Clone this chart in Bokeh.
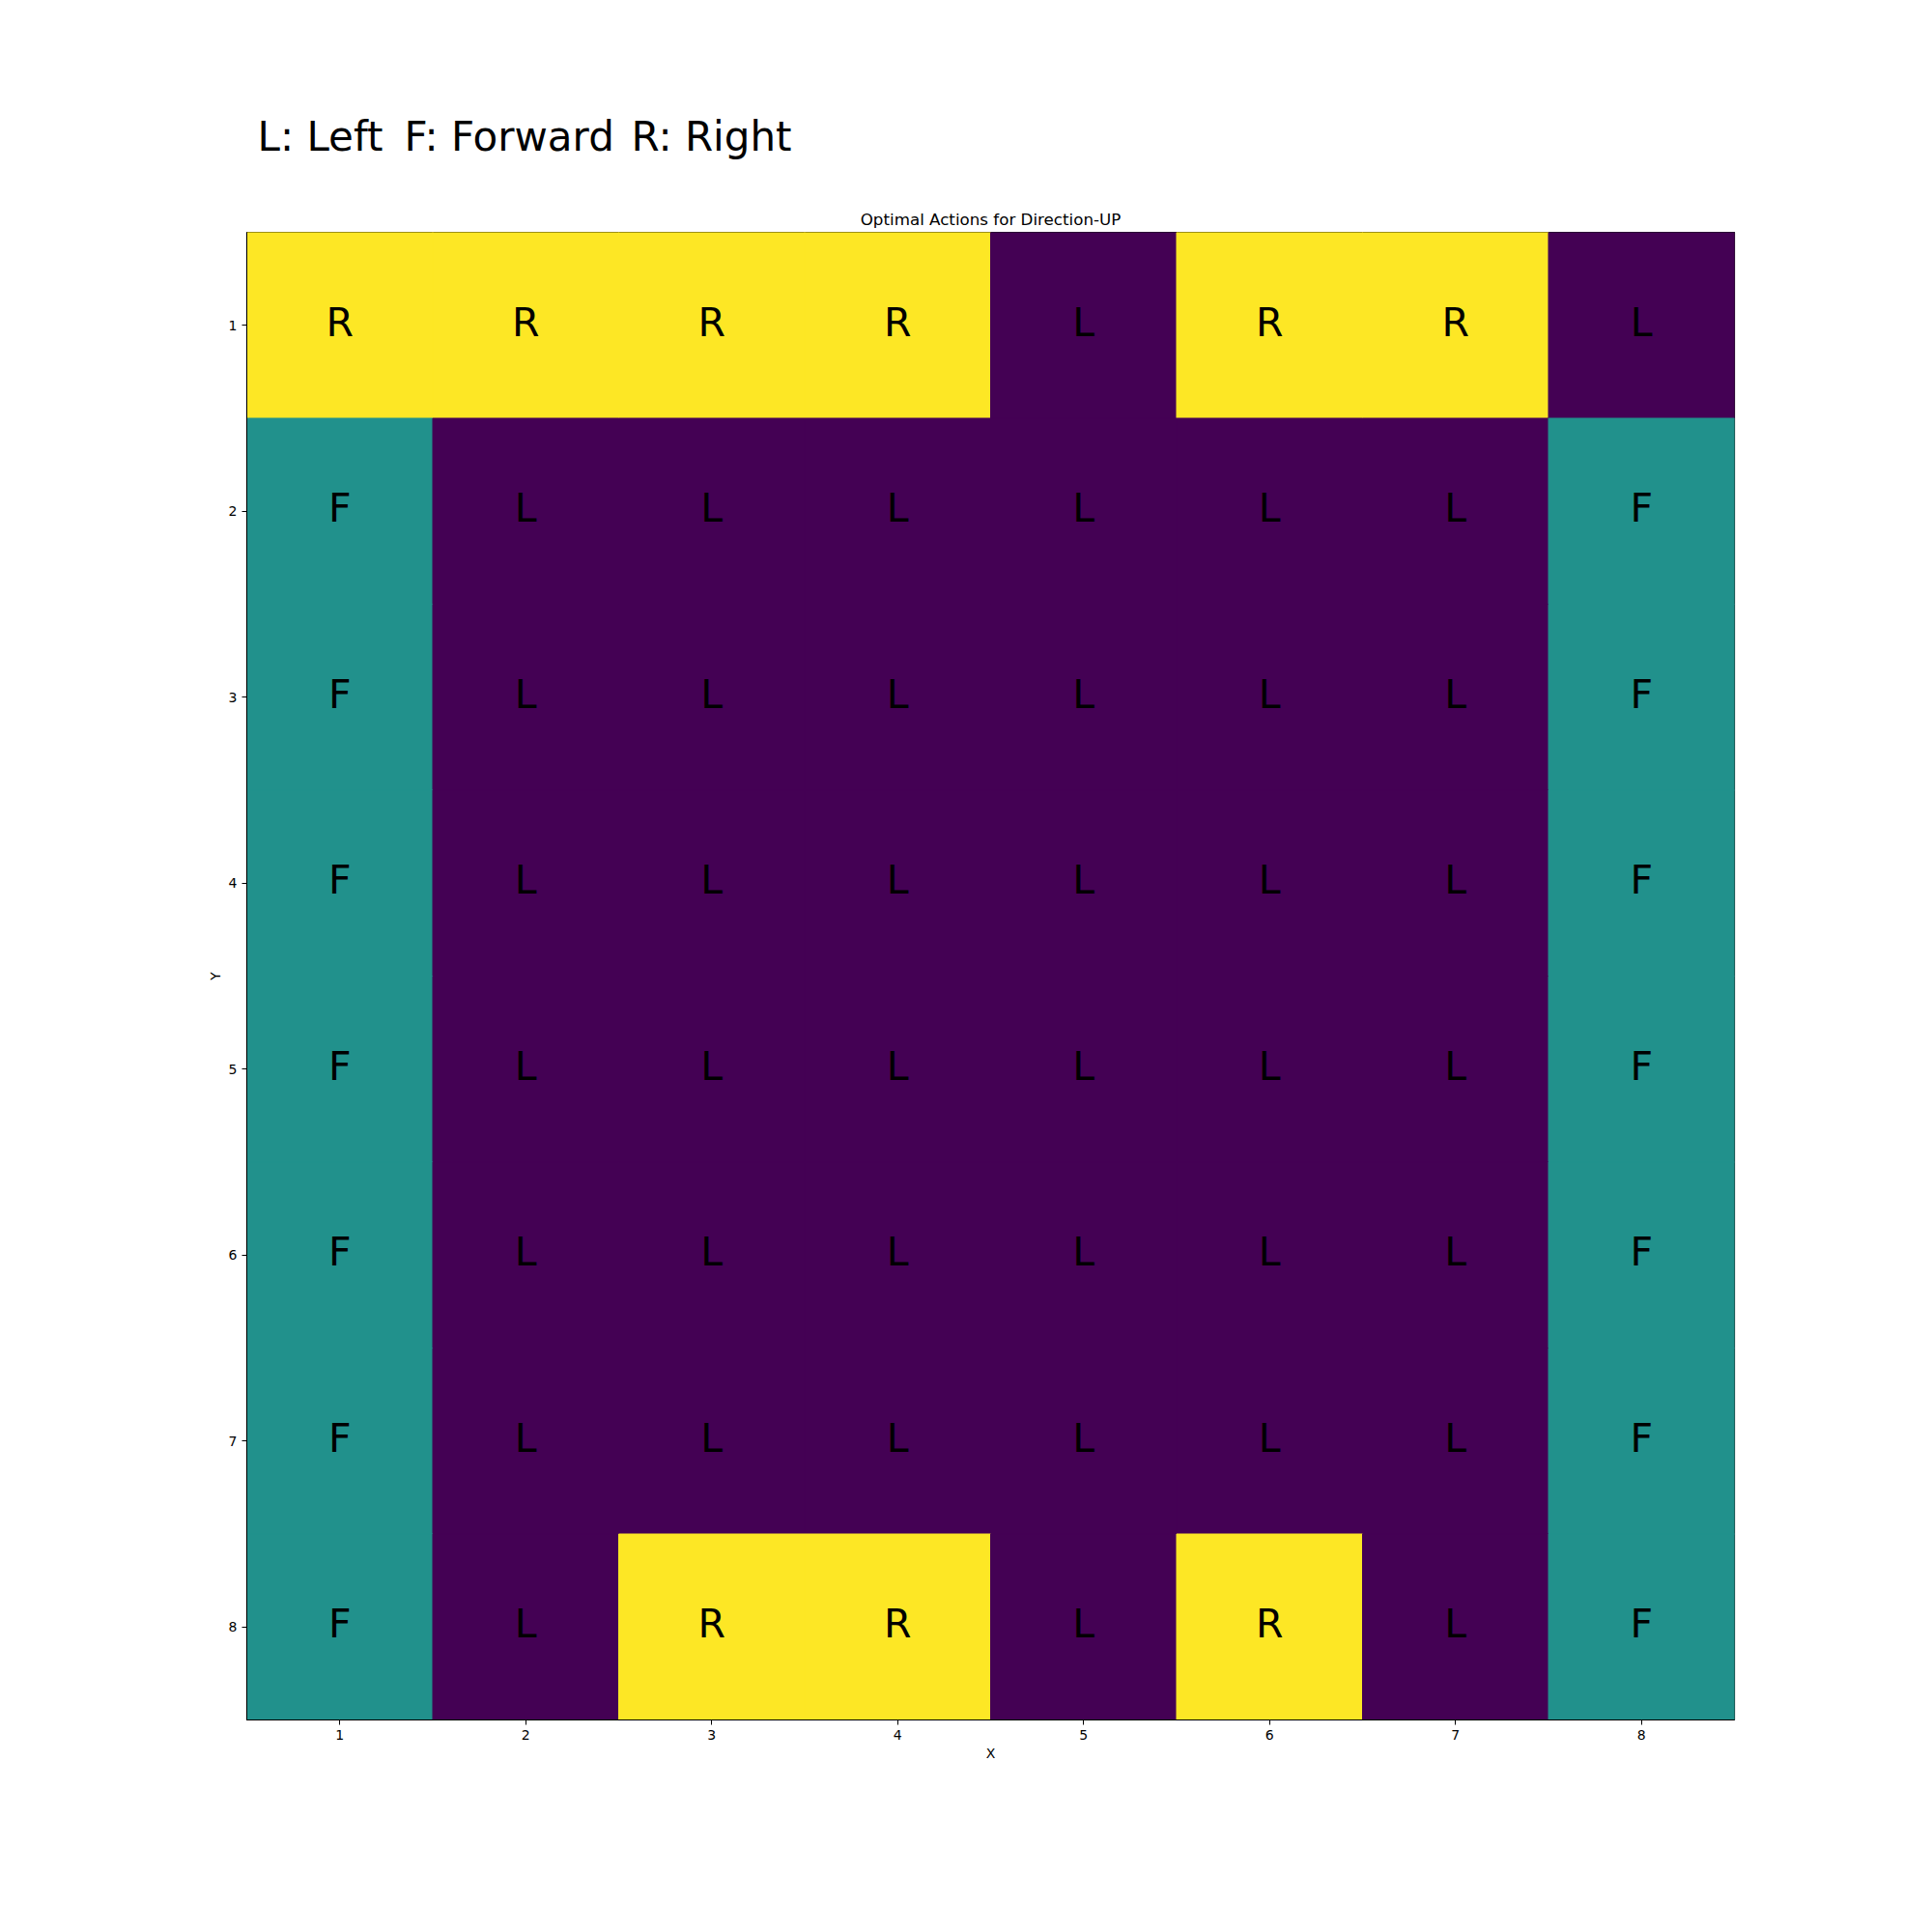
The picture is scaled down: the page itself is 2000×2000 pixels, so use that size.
from bokeh.plotting import figure
from bokeh.models import Range1d, FixedTicker, ColumnDataSource
from bokeh.layouts import column
from bokeh.transform import factor_cmap
from bokeh.core.properties import value
from bokeh.embed import file_html
from bokeh.resources import INLINE

x_ticks = [1, 2, 3, 4, 5, 6, 7, 8]
y_ticks = [1, 2, 3, 4, 5, 6, 7, 8]
action_rows = [
    ["R", "R", "R", "R", "L", "R", "R", "L"],
    ["F", "L", "L", "L", "L", "L", "L", "F"],
    ["F", "L", "L", "L", "L", "L", "L", "F"],
    ["F", "L", "L", "L", "L", "L", "L", "F"],
    ["F", "L", "L", "L", "L", "L", "L", "F"],
    ["F", "L", "L", "L", "L", "L", "L", "F"],
    ["F", "L", "L", "L", "L", "L", "L", "F"],
    ["F", "L", "R", "R", "L", "R", "L", "F"],
]
action_factors = ["L", "F", "R"]
action_colors = ["#440154", "#21918c", "#fde725"]
legend_texts = ["L: Left", "F: Forward", "R: Right"]

FONT = "DejaVu Sans"

# ---- header strip with the action legend (range in canvas pixels) ----
hdr = figure(width=2000, height=200, frame_width=1540, frame_height=200,
             min_border_left=255, min_border_right=205, min_border_top=0, min_border_bottom=0,
             x_range=Range1d(255, 1795), y_range=Range1d(200, 0),
             x_axis_type=None, y_axis_type=None,
             output_backend="svg", toolbar_location=None)
hdr.outline_line_color = None
hdr.xgrid.visible = False
hdr.ygrid.visible = False
hdr_src = ColumnDataSource(dict(x=[266, 418, 653], y=[141, 141, 141], t=legend_texts))
hdr.text(x="x", y="y", text="t", source=hdr_src, text_align="left",
         text_baseline="alphabetic", text_font=value(FONT),
         text_font_size="42px", text_color="black")

# ---- main grid ----
xs, ys, acts = [], [], []
for yi, row in zip(y_ticks, action_rows):
    for xi, a in zip(x_ticks, row):
        xs.append(xi)
        ys.append(yi)
        acts.append(a)
src = ColumnDataSource(dict(x=xs, y=ys, a=acts))

p = figure(width=2000, height=1800, frame_width=1540, frame_height=1540,
           min_border_left=255, min_border_right=205, min_border_top=40, min_border_bottom=220,
           x_range=Range1d(0.5, 8.5), y_range=Range1d(8.5, 0.5),
           output_backend="svg", toolbar_location=None,
           title="Optimal Actions for Direction-UP")

p.title.align = "center"
p.title.text_font = FONT
p.title.text_font_size = "16.7px"
p.title.text_font_style = "normal"
p.title.text_color = "black"
p.title.standoff = 8

cmap = factor_cmap("a", palette=action_colors, factors=action_factors)
p.rect(x="x", y="y", width=1, height=1, source=src,
       fill_color=cmap, line_color=cmap, line_width=1)
p.text(x="x", y="y", text="a", source=src, text_align="center", text_baseline="middle",
       y_offset=-3, text_font=value(FONT), text_font_size="41px", text_color="black")

p.xgrid.visible = False
p.ygrid.visible = False
p.outline_line_color = "black"
p.outline_line_width = 1.2

for ax in (p.xaxis, p.yaxis):
    ax.minor_tick_line_color = None
    ax.major_tick_out = 5
    ax.major_tick_in = 0
    ax.major_label_text_font = FONT
    ax.major_label_text_font_size = "14px"
    ax.major_label_text_color = "black"
    ax.axis_label_text_font = FONT
    ax.axis_label_text_font_size = "14px"
    ax.axis_label_text_font_style = "normal"
    ax.axis_label_text_color = "black"
    ax.axis_line_color = "black"
    ax.major_label_standoff = 5
    ax.axis_label_standoff = 3
p.xaxis.ticker = FixedTicker(ticks=x_ticks)
p.yaxis.ticker = FixedTicker(ticks=y_ticks)
p.xaxis.axis_label = "X"
p.yaxis.axis_label = "Y"

layout = column(hdr, p, spacing=0)
open("out.html", "w").write(file_html(layout, INLINE))
